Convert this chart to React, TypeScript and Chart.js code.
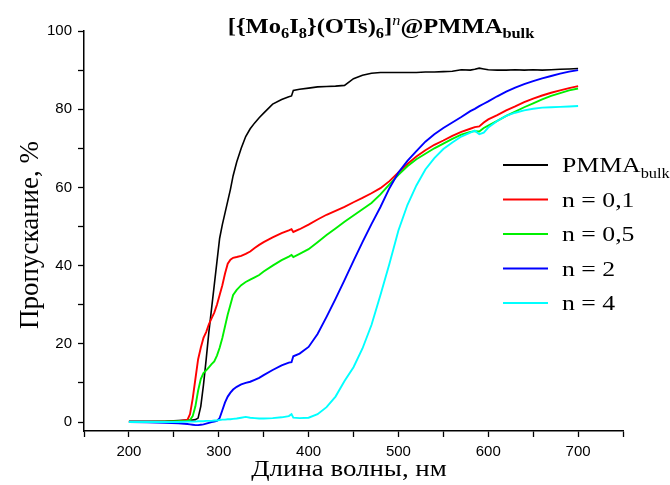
import React, { useEffect, useRef } from "react";
import { Chart, registerables } from "chart.js";

Chart.register(...registerables);

// ---- data ----
const wavelength = [
  200, 220, 240, 255, 265, 268, 271, 274, 277, 280, 283, 286, 289, 292, 295, 298, 301, 304, 307, 310,
  313, 316, 320, 325, 330, 335, 340, 345, 350, 360, 370, 378, 381, 383, 390, 400, 410, 420, 430, 440,
  450, 460, 470, 480, 490, 500, 510, 520, 530, 540, 550, 560, 570, 580, 585, 590, 595, 600, 610, 620,
  630, 640, 650, 660, 670, 680, 690, 700,
];
const pmma = [
  0.2, 0.2, 0.2, 0.4, 0.5, 0.5, 0.5, 0.6, 1, 4, 9.5, 16, 23, 29, 35, 41, 47, 50.5, 53.5, 56.5,
  59.5, 63, 66.5, 70, 73, 75, 76.5, 77.8, 79, 81.3, 82.5, 83.2, 83.4, 84.8, 85.1, 85.4, 85.7, 85.8, 85.9, 86.1,
  87.8, 88.7, 89.2, 89.4, 89.4, 89.4, 89.4, 89.4, 89.5, 89.5, 89.6, 89.7, 90.1, 90, 90.2, 90.5, 90.3, 90.1, 90, 90,
  90.1, 90, 90.1, 90, 90.1, 90.2, 90.3, 90.4,
];
const n01 = [
  0, 0, 0.1, 0.2, 0.5, 2, 6, 11, 16, 19, 21.5, 23, 25, 26.5, 28, 30, 32.5, 35, 38, 40.5,
  41.5, 42, 42.2, 42.5, 43, 43.6, 44.5, 45.3, 46, 47.2, 48.3, 49, 49.3, 48.6, 49.3, 50.5, 51.8, 53, 54, 55,
  56.2, 57.3, 58.5, 59.8, 61.6, 63.8, 66, 67.9, 69.5, 70.9, 72, 73.2, 74.2, 75, 75.4, 75.6, 76.6, 77.4, 78.5, 79.7,
  80.7, 81.8, 82.7, 83.5, 84.2, 84.8, 85.4, 85.9,
];
const n05 = [
  0, 0, 0.1, 0.2, 0.3, 0.5, 1.5, 4, 8, 11, 12.5, 13.2, 14, 14.8, 15.5, 17, 19, 21.5, 24.5, 27.5,
  30, 32.5, 33.8, 35, 35.8, 36.4, 37, 37.6, 38.5, 40, 41.4, 42.3, 42.7, 42.2, 43, 44.2, 46, 47.8, 49.5, 51.2,
  52.8, 54.4, 56, 58.2, 60.8, 63.2, 65.4, 67.2, 68.6, 70, 71.2, 72.4, 73.5, 74.2, 74.4, 74.3, 75.2, 75.8, 77, 78.3,
  79.4, 80.5, 81.5, 82.5, 83.4, 84.1, 84.8, 85.3,
];
const n2 = [
  0, -0.1, -0.2, -0.3, -0.5, -0.6, -0.7, -0.8, -0.8, -0.7, -0.6, -0.4, -0.2, 0, 0.1, 0.3, 1, 3, 5, 6.5,
  7.5, 8.3, 9, 9.6, 10, 10.3, 10.8, 11.3, 12, 13.3, 14.5, 15.2, 15.3, 16.8, 17.5, 19.2, 22.5, 26.9, 31.5, 36.3,
  41.2, 46, 50.6, 55, 59.8, 63.8, 66.8, 69.3, 71.7, 73.6, 75.2, 76.6, 78, 79.5, 80.1, 80.8, 81.4, 82, 83.3, 84.5,
  85.5, 86.4, 87.2, 87.9, 88.5, 89.1, 89.6, 90,
];
const n4 = [
  0, 0, 0, 0, 0.1, 0.1, 0.1, 0.1, 0.2, 0.2, 0.2, 0.3, 0.3, 0.3, 0.4, 0.4, 0.5, 0.6, 0.6, 0.7,
  0.7, 0.8, 0.9, 1.1, 1.3, 1.1, 1, 0.9, 0.9, 1, 1.2, 1.5, 2, 1.1, 1, 1.1, 2, 3.8, 6.5, 10.5,
  14, 18.8, 24.8, 32.5, 40.5, 49, 55.5, 60.5, 64.6, 67.5, 69.8, 71.5, 73, 74, 74.5, 73.6, 74, 75.3, 77, 78.3,
  79.1, 79.7, 80.1, 80.4, 80.5, 80.6, 80.7, 80.8,
];

const seriesNames = ["PMMA", "n = 0,1", "n = 0,5", "n = 2", "n = 4"];
const seriesColors = ["#000000", "#ff0000", "#00f000", "#0000ff", "#00ffff"];
const seriesValues = [pmma, n01, n05, n2, n4];

const xTickValues = [150, 200, 250, 300, 350, 400, 450, 500, 550, 600, 650, 700, 750];
const yTickValues = [0, 10, 20, 30, 40, 50, 60, 70, 80, 90, 100];

const titleText = ["[{Mo", "6", "I", "8", "}(OTs)", "6", "]", "n", "@PMMA", "bulk"];
const xTitle = "Длина волны, нм";
const yTitle = "Пропускание, %";

type Part = { t: string; size: number; weight?: string; style?: string; dy?: number };

function drawParts(ctx: CanvasRenderingContext2D, parts: Part[], x: number, y: number, align: string, sx: number) {
  const fam = '"Liberation Serif", "Times New Roman", serif';
  const fontOf = (p: Part) => `${p.style || "normal"} ${p.weight || "normal"} ${p.size}px ${fam}`;
  let total = 0;
  for (const p of parts) {
    ctx.font = fontOf(p);
    total += ctx.measureText(p.t).width;
  }
  ctx.save();
  ctx.translate(x, y);
  ctx.scale(sx, 1);
  let cx = align === "center" ? -total / 2 : 0;
  ctx.textBaseline = "alphabetic";
  ctx.textAlign = "left";
  ctx.fillStyle = "#000";
  for (const p of parts) {
    ctx.font = fontOf(p);
    ctx.fillText(p.t, cx, p.dy || 0);
    cx += ctx.measureText(p.t).width;
  }
  ctx.restore();
}

const textPlugin = {
  id: "textPlugin",
  afterDraw(chart: any) {
    const ctx: CanvasRenderingContext2D = chart.ctx;
    const B = 21, S = 14;
    // title
    const tp: Part[] = [
      { t: titleText[0], size: B, weight: "bold" },
      { t: titleText[1], size: S, weight: "bold", dy: 5 },
      { t: titleText[2], size: B, weight: "bold" },
      { t: titleText[3], size: S, weight: "bold", dy: 5 },
      { t: titleText[4], size: B, weight: "bold" },
      { t: titleText[5], size: S, weight: "bold", dy: 5 },
      { t: titleText[6], size: B, weight: "bold" },
      { t: titleText[7], size: S, style: "italic", dy: -8 },
      { t: titleText[8], size: B, weight: "bold" },
      { t: titleText[9], size: S, weight: "bold", dy: 5 },
    ];
    drawParts(ctx, tp, 381, 33, "center", 1.17);

    // axis titles
    drawParts(ctx, [{ t: xTitle, size: 24 }], 349, 476, "center", 1.12);
    ctx.save();
    ctx.translate(38, 235);
    ctx.rotate(-Math.PI / 2);
    drawParts(ctx, [{ t: yTitle, size: 27 }], 0, 0, "center", 1.0);
    ctx.restore();

    // legend
    const rows = [165, 199.5, 234, 268.5, 303];
    seriesNames.forEach((name, i) => {
      const y = rows[i];
      ctx.save();
      ctx.strokeStyle = seriesColors[i];
      ctx.lineWidth = 2;
      ctx.beginPath();
      ctx.moveTo(503, y);
      ctx.lineTo(548, y);
      ctx.stroke();
      ctx.restore();
      const parts: Part[] = [{ t: name, size: 22 }];
      if (i === 0) parts.push({ t: "bulk", size: 14, dy: 6 });
      drawParts(ctx, parts, 562, y + 7, "left", 1.17);
    });
  },
};

export default function App() {
  const ref = useRef<HTMLCanvasElement | null>(null);
  useEffect(() => {
    if (!ref.current) return;
    const orderMap = [4, 3, 2, 1, 0];
    const chart = new Chart(ref.current, {
      type: "line",
      data: {
        datasets: seriesValues.map((vals, i) => ({
          label: seriesNames[i],
          data: wavelength.map((x, j) => ({ x, y: vals[j] })),
          borderColor: seriesColors[i],
          backgroundColor: seriesColors[i],
          borderWidth: i === 0 ? 1.6 : 1.9,
          pointRadius: 0,
          tension: 0,
          fill: false,
          order: orderMap[i],
        })),
      },
      options: {
        responsive: false,
        animation: false,
        events: [],
        layout: { padding: { left: 0, right: 47, top: 31, bottom: 0 } },
        plugins: { legend: { display: false }, tooltip: { enabled: false }, title: { display: false } },
        scales: {
          x: {
            type: "linear",
            min: 150,
            max: 750,
            afterFit: (s: any) => { s.height = 54; },
            afterBuildTicks: (s: any) => { s.ticks = xTickValues.map((v) => ({ value: v })); },
            ticks: {
              autoSkip: false,
              maxRotation: 0,
              padding: 6,
              color: "#000",
              font: { family: '"Liberation Sans", Arial, sans-serif', size: 15 },
              callback: (v: any) => (Number(v) % 100 === 0 ? String(v) : ""),
            },
            grid: { display: true, drawOnChartArea: false, drawTicks: true, tickLength: 6, tickColor: "#000", tickWidth: 1.3 },
            border: { display: true, color: "#000", width: 1.5 },
          },
          y: {
            type: "linear",
            min: -2.3,
            max: 100,
            afterFit: (s: any) => { s.width = 84; },
            afterBuildTicks: (s: any) => { s.ticks = yTickValues.map((v) => ({ value: v })); },
            ticks: {
              autoSkip: false,
              padding: 6,
              color: "#000",
              font: { family: '"Liberation Sans", Arial, sans-serif', size: 15 },
              callback: (v: any) => (Number(v) % 20 === 0 ? String(v) : ""),
            },
            grid: { display: true, drawOnChartArea: false, drawTicks: true, tickLength: 6, tickColor: "#000", tickWidth: 1.3 },
            border: { display: true, color: "#000", width: 1.5 },
          },
        },
      },
      plugins: [textPlugin],
    } as any);
    return () => chart.destroy();
  }, []);
  return (
    <div style={{ position: "absolute", left: 0, top: 0, width: 670, height: 485, background: "#fff" }}>
      <canvas ref={ref} width={670} height={485} style={{ width: 670, height: 485, display: "block" }} />
    </div>
  );
}
